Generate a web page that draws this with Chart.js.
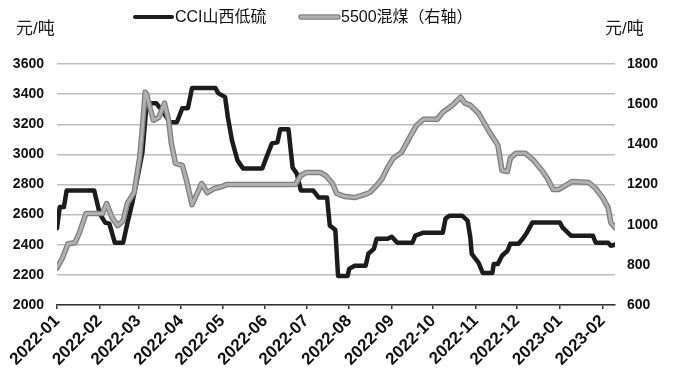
<!DOCTYPE html>
<html>
<head>
<meta charset="utf-8">
<script src="https://cdn.jsdelivr.net/npm/chart.js@4/dist/chart.umd.min.js"></script>
<style>
html,body{margin:0;padding:0;background:#fff;}
#wrap{width:673px;height:390px;position:relative;}
</style>
</head>
<body>
<div id="wrap"><canvas id="c" width="673" height="390"></canvas></div>
<script>
// ---- data ----
const monthLabels = ['2022-01','2022-02','2022-03','2022-04','2022-05','2022-06','2022-07','2022-08','2022-09','2022-10','2022-11','2022-12','2023-01','2023-02'];

const cciDates = ['2022-01-01','2022-01-03','2022-01-06','2022-01-08','2022-01-28','2022-02-01','2022-02-05','2022-02-08','2022-02-12','2022-02-18','2022-02-21','2022-02-25','2022-03-01','2022-03-04','2022-03-07','2022-03-10','2022-03-14','2022-03-18','2022-03-24','2022-03-29','2022-04-02','2022-04-06','2022-04-09','2022-04-26','2022-04-28','2022-05-03','2022-05-05','2022-05-08','2022-05-12','2022-05-16','2022-05-30','2022-06-02','2022-06-06','2022-06-10','2022-06-12','2022-06-18','2022-06-21','2022-06-24','2022-06-27','2022-07-06','2022-07-10','2022-07-16','2022-07-18','2022-07-22','2022-07-24','2022-07-31','2022-08-01','2022-08-05','2022-08-13','2022-08-15','2022-08-19','2022-08-21','2022-08-29','2022-09-01','2022-09-05','2022-09-16','2022-09-18','2022-09-24','2022-10-08','2022-10-10','2022-10-13','2022-10-22','2022-10-26','2022-10-28','2022-10-29','2022-11-03','2022-11-06','2022-11-13','2022-11-14','2022-11-17','2022-11-20','2022-11-24','2022-11-26','2022-12-02','2022-12-05','2022-12-08','2022-12-12','2023-01-01','2023-01-03','2023-01-09','2023-01-25','2023-01-27','2023-02-05','2023-02-07','2023-02-10'];
const cciValues = [2510,2650,2650,2760,2760,2607,2547,2540,2413,2413,2540,2693,2873,3013,3330,3340,3340,3293,3213,3213,3307,3307,3440,3440,3407,3380,3247,3093,2960,2907,2907,2980,3073,3080,3167,3167,2913,2873,2760,2760,2713,2713,2527,2500,2193,2193,2240,2260,2260,2340,2373,2440,2440,2453,2413,2413,2460,2480,2480,2573,2593,2593,2560,2447,2340,2280,2213,2213,2273,2273,2327,2360,2407,2407,2440,2480,2547,2547,2513,2460,2460,2413,2413,2393,2400];

const coalDates = ['2022-01-01','2022-01-05','2022-01-09','2022-01-14','2022-01-17','2022-01-22','2022-02-03','2022-02-06','2022-02-10','2022-02-14','2022-02-18','2022-02-21','2022-02-26','2022-03-02','2022-03-04','2022-03-06','2022-03-07','2022-03-10','2022-03-12','2022-03-16','2022-03-20','2022-03-23','2022-03-25','2022-03-28','2022-04-02','2022-04-05','2022-04-09','2022-04-13','2022-04-16','2022-04-20','2022-04-25','2022-05-01','2022-05-04','2022-06-23','2022-06-27','2022-07-01','2022-07-11','2022-07-15','2022-07-20','2022-07-23','2022-07-29','2022-08-05','2022-08-12','2022-08-16','2022-08-21','2022-08-25','2022-08-29','2022-09-02','2022-09-08','2022-09-12','2022-09-16','2022-09-19','2022-09-24','2022-10-04','2022-10-08','2022-10-15','2022-10-21','2022-10-24','2022-10-28','2022-11-03','2022-11-08','2022-11-11','2022-11-17','2022-11-20','2022-11-24','2022-11-26','2022-11-30','2022-12-07','2022-12-13','2022-12-19','2022-12-23','2022-12-27','2022-12-31','2023-01-05','2023-01-10','2023-01-22','2023-01-27','2023-02-01','2023-02-05','2023-02-07','2023-02-10'];
const coalValues = [785,835,905,910,955,1055,1055,1105,1035,995,1020,1105,1160,1335,1485,1660,1650,1570,1520,1535,1605,1520,1405,1305,1295,1220,1100,1160,1205,1160,1180,1190,1200,1200,1245,1260,1260,1245,1205,1155,1140,1135,1150,1160,1195,1230,1285,1330,1360,1410,1460,1495,1525,1525,1560,1595,1635,1605,1595,1555,1495,1460,1395,1270,1265,1330,1355,1355,1320,1270,1230,1175,1175,1195,1215,1210,1180,1135,1085,1010,985];

const leftTicks = {min:2000, max:3600, step:200};
const rightTicks = {min:600, max:1800, step:200};
const seriesNames = ['CCI山西低硫','5500混煤（右轴）'];
const unitText = '元/吨';

// ---- helpers ----
const DAY = 86400000;
const origin = Date.UTC(2022,0,1);
function dayIndex(s){const p=s.split('-').map(Number);return Math.round((Date.UTC(p[0],p[1]-1,p[2]||1)-origin)/DAY);}
const monthDays = monthLabels.map(m=>dayIndex(m+'-01'));
const cciPts = cciDates.map((d,i)=>({x:dayIndex(d),y:cciValues[i]}));
const coalPts = coalDates.map((d,i)=>({x:dayIndex(d),y:coalValues[i]}));
const xMax = Math.max(dayIndex(cciDates[cciDates.length-1]), dayIndex(coalDates[coalDates.length-1]));

const FONT = "'Liberation Sans', Arial, 'Noto Sans CJK SC', sans-serif";

const overlay = {
  id:'overlay',
  afterDraw(chart){
    const ctx = chart.ctx;
    ctx.save();
    ctx.font = "17px " + FONT;
    ctx.fillStyle = '#1a1a1a';
    ctx.textBaseline = 'middle';
    ctx.textAlign = 'left';
    ctx.fillText(unitText, 16, 29);
    ctx.fillText(unitText, 605, 29);
    // legend
    const ly = 17;
    ctx.lineCap = 'round';
    ctx.strokeStyle = '#1c1c1c'; ctx.lineWidth = 4;
    ctx.beginPath(); ctx.moveTo(135,ly); ctx.lineTo(172,ly); ctx.stroke();
    ctx.strokeStyle = '#808080'; ctx.lineWidth = 5.5;
    ctx.beginPath(); ctx.moveTo(301,ly); ctx.lineTo(338,ly); ctx.stroke();
    ctx.strokeStyle = '#b0b0b0'; ctx.lineWidth = 3;
    ctx.beginPath(); ctx.moveTo(301,ly); ctx.lineTo(338,ly); ctx.stroke();
    ctx.font = "16px " + FONT;
    ctx.fillStyle = '#111';
    ctx.fillText(seriesNames[0], 175, ly+1);
    ctx.fillText(seriesNames[1], 341, ly+1);
    ctx.restore();
  }
};

new Chart(document.getElementById('c'), {
  type:'line',
  data:{
    datasets:[
      {label:seriesNames[0], data:cciPts, yAxisID:'y', borderColor:'#1c1c1c', backgroundColor:'#1c1c1c', borderWidth:4.5, pointRadius:0, tension:0, borderJoinStyle:'round', borderCapStyle:'round', order:3},
      {label:seriesNames[1]+'_outline', data:coalPts, yAxisID:'y1', borderColor:'#7d7d7d', backgroundColor:'#7d7d7d', borderWidth:5.5, pointRadius:0, tension:0, borderJoinStyle:'round', borderCapStyle:'round', order:2},
      {label:seriesNames[1], data:coalPts, yAxisID:'y1', borderColor:'#b0b0b0', backgroundColor:'#b0b0b0', borderWidth:3, pointRadius:0, tension:0, borderJoinStyle:'round', borderCapStyle:'round', order:1}
    ]
  },
  options:{
    responsive:false,
    animation:false,
    layout:{padding:{top:64,left:0,right:0,bottom:0}},
    plugins:{legend:{display:false}, tooltip:{enabled:false}},
    scales:{
      x:{
        type:'linear', min:0, max:xMax, position:'bottom',
        afterBuildTicks(scale){ scale.ticks = monthDays.map(v=>({value:v})); },
        afterFit(scale){ scale.height = 85; },
        grid:{display:true, drawOnChartArea:false, drawTicks:true, tickLength:4, color:'#333', lineWidth:1.5},
        border:{display:true, color:'#333', width:1.5},
        ticks:{autoSkip:false, minRotation:45, maxRotation:45, padding:2, color:'#111',
          font:{family:FONT, size:17, weight:'bold'},
          callback(v, i){ return monthLabels[i]; }}
      },
      y:{
        position:'left', min:leftTicks.min, max:leftTicks.max,
        afterFit(scale){ scale.width = 57; },
        grid:{color:'#bdbdbd', lineWidth:1.5, drawTicks:false},
        border:{display:false},
        ticks:{stepSize:leftTicks.step, padding:13, color:'#111', font:{family:FONT, size:14, weight:'bold'},
          callback(v){ return String(v); }}
      },
      y1:{
        position:'right', min:rightTicks.min, max:rightTicks.max,
        afterFit(scale){ scale.width = 58; },
        grid:{display:false, drawOnChartArea:false, drawTicks:false},
        border:{display:false},
        ticks:{stepSize:rightTicks.step, padding:12, color:'#111', font:{family:FONT, size:14, weight:'bold'},
          callback(v){ return String(v); }}
      }
    }
  },
  plugins:[overlay]
});
</script>
</body>
</html>
